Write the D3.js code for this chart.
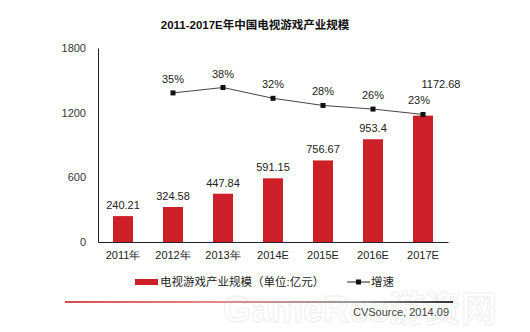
<!DOCTYPE html>
<html><head><meta charset="utf-8">
<script src="https://cdn.jsdelivr.net/npm/d3@7"></script>
<style>
html,body{margin:0;padding:0;background:#fff;}
svg{display:block;font-family:Arial,"Liberation Sans","Noto Sans CJK SC",sans-serif;}
</style></head>
<body>
<svg id="c" width="530" height="332"></svg>
<script>
const title = "2011-2017E年中国电视游戏产业规模";
const categories = ["2011年","2012年","2013年","2014E","2015E","2016E","2017E"];
const sizeValues = [240.21, 324.58, 447.84, 591.15, 756.67, 953.4, 1172.68];
const sizeLabels = ["240.21","324.58","447.84","591.15","756.67","953.4","1172.68"];
const growthCats = ["2012年","2013年","2014E","2015E","2016E","2017E"];
const growthValues = [35, 38, 32, 28, 26, 23];
const yTicks = [0, 600, 1200, 1800];
const legendBar = "电视游戏产业规模（单位:亿元）";
const legendLine = "增速";
const source = "CVSource, 2014.09";
const watermark = "GameRes游资网";

const svg = d3.select("#c");
const pLeft = 98, pRight = 448, pTop = 48, pBottom = 242;

const x = d3.scaleBand().domain(categories).range([pLeft, pRight]).paddingInner(0.6).paddingOuter(0.3);
const y = d3.scaleLinear().domain([0, 1800]).range([pBottom, pTop]);
const y2 = d3.scaleLinear().domain([-48, 60]).range([pBottom, pTop]);

// title
svg.append("text").attr("x", 255).attr("y", 29).attr("text-anchor", "middle")
  .attr("font-size", 11.5).attr("font-weight", "bold").attr("fill", "#111").text(title);

// y axis
const yAxis = d3.axisLeft(y).tickValues(yTicks).tickSize(0).tickPadding(12).tickFormat(d3.format("d"));
const ga = svg.append("g").attr("transform", `translate(${pLeft},0)`).call(yAxis);
ga.select(".domain").attr("stroke", "#222").attr("stroke-width", 1);
ga.selectAll("text").attr("font-size", 11).attr("fill", "#333").attr("font-family", "Arial,'Liberation Sans',sans-serif");

// bars
svg.append("g").selectAll("rect").data(sizeValues).join("rect")
  .attr("x", (d, i) => x(categories[i]))
  .attr("width", x.bandwidth())
  .attr("y", d => y(d))
  .attr("height", d => pBottom - y(d))
  .attr("fill", "#cc1f28");

// x axis
const xAxis = d3.axisBottom(x).tickSize(0).tickPadding(9);
const gx = svg.append("g").attr("transform", `translate(0,${pBottom})`).call(xAxis);
gx.select(".domain").attr("stroke", "#222").attr("stroke-width", 1);
gx.selectAll("text").attr("font-size", 11).attr("fill", "#222");

// bar value labels
svg.append("g").selectAll("text").data(sizeValues).join("text")
  .attr("x", (d, i) => x(categories[i]) + x.bandwidth() / 2 + (i === 6 ? 18 : 0))
  .attr("y", (d, i) => y(d) - (i === 6 ? 28 : 7))
  .attr("text-anchor", "middle").attr("font-size", 11).attr("fill", "#222")
  .text((d, i) => sizeLabels[i]);

// growth line
const cx = c => x(c) + x.bandwidth() / 2;
const line = d3.line().x((d, i) => cx(growthCats[i])).y(d => y2(d));
svg.append("path").datum(growthValues).attr("d", line)
  .attr("fill", "none").attr("stroke", "#444").attr("stroke-width", 1);
svg.append("g").selectAll("rect").data(growthValues).join("rect")
  .attr("x", (d, i) => cx(growthCats[i]) - 2.5).attr("y", d => y2(d) - 2.5)
  .attr("width", 5).attr("height", 5).attr("fill", "#111");
svg.append("g").selectAll("text").data(growthValues).join("text")
  .attr("x", (d, i) => cx(growthCats[i]) - (i === 5 ? 4 : 0))
  .attr("y", d => y2(d) - 10)
  .attr("text-anchor", "middle").attr("font-size", 11).attr("fill", "#222")
  .text(d => d + "%");

// legend
const ly = 282;
svg.append("rect").attr("x", 135).attr("y", ly - 3).attr("width", 23).attr("height", 6).attr("fill", "#cc1f28");
svg.append("text").attr("x", 160).attr("y", ly + 4).attr("font-size", 11.5).attr("fill", "#222").text(legendBar);
svg.append("line").attr("x1", 347).attr("x2", 370).attr("y1", ly).attr("y2", ly).attr("stroke", "#222").attr("stroke-width", 1);
svg.append("rect").attr("x", 356).attr("y", ly - 2.5).attr("width", 5).attr("height", 5).attr("fill", "#111");
svg.append("text").attr("x", 371).attr("y", ly + 4).attr("font-size", 11.5).attr("fill", "#222").text(legendLine);

// watermark (faint, behind source text)
svg.append("text").attr("x", 223).attr("y", 322).attr("font-size", 36).attr("font-weight", "bold")
  .attr("fill", "#fff").attr("stroke", "#ececec").attr("stroke-width", 0.8)
  .text(watermark);

// bottom rule with gradient
const defs = svg.append("defs");
const grad = defs.append("linearGradient").attr("id", "rule").attr("x1", "0%").attr("x2", "100%");
grad.append("stop").attr("offset", "0%").attr("stop-color", "#d94a4f");
grad.append("stop").attr("offset", "40%").attr("stop-color", "#e58a8c");
grad.append("stop").attr("offset", "75%").attr("stop-color", "#999");
grad.append("stop").attr("offset", "100%").attr("stop-color", "#333");
svg.append("rect").attr("x", 65).attr("y", 301).attr("width", 388).attr("height", 2).attr("fill", "url(#rule)");

svg.append("text").attr("x", 449).attr("y", 315.5).attr("text-anchor", "end")
  .attr("font-size", 11).attr("fill", "#444").text(source);
</script>
</body></html>
